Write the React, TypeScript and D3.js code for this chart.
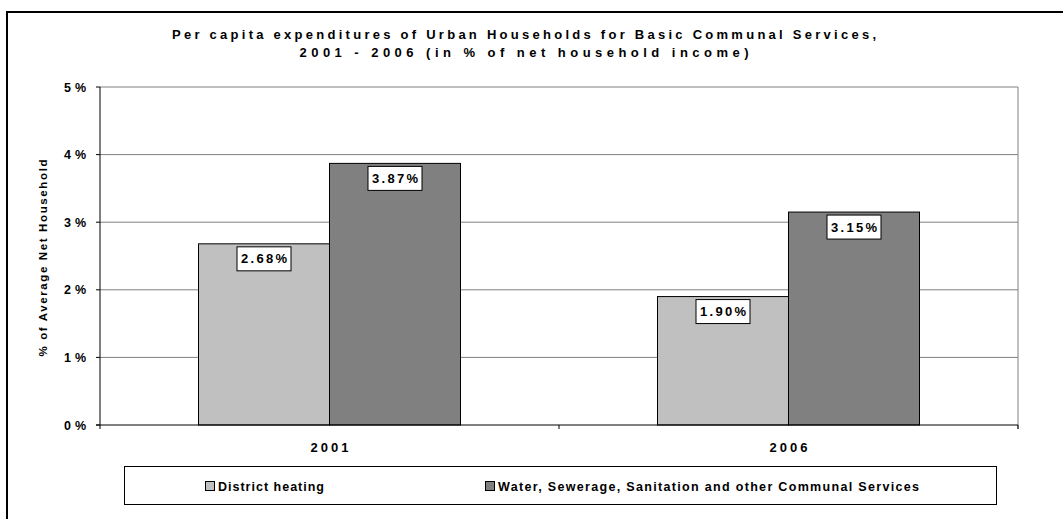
import React from "react";
import * as d3 from "d3";

const years = ["2001", "2006"];
const seriesNames = ["District heating", "Water, Sewerage, Sanitation and other Communal Services"];
const districtHeating = [2.68, 1.9];
const waterServices = [3.87, 3.15];
const yTicks = [0, 1, 2, 3, 4, 5];
const titleLines = [
  "Per capita expenditures of Urban Households for Basic Communal Services,",
  "2001 - 2006 (in % of net household income)",
];
const yAxisTitle = "% of Average Net Household";

const W = 1063;
const H = 519;
const plot = { left: 100, right: 1018, top: 87, bottom: 425 };
const colors = ["#C0C0C0", "#808080"];
const FONT = "'Liberation Sans', Arial, Helvetica, sans-serif";

export default function App() {
  const x = d3.scaleBand<string>().domain(years).range([plot.left, plot.right]).paddingInner(0).paddingOuter(0);
  const xs = d3.scaleBand<number>().domain([0, 1]).range([0, x.bandwidth()]).paddingInner(0).paddingOuter(0.752);
  const y = d3.scaleLinear().domain([0, 5]).range([plot.bottom, plot.top]);
  const series = [districtHeating, waterServices];

  const fmt = (v: number) => v.toFixed(2) + "%";

  return (
    <svg width={W} height={H} style={{ position: "absolute", left: 0, top: 0, background: "#fff" }} fontFamily={FONT}>
      <rect x={0} y={0} width={W} height={H} fill="#fff" />
      {/* outer frame */}
      <rect x={7} y={12} width={W + 20} height={H + 20} fill="none" stroke="#000" strokeWidth={2} />

      {/* title */}
      <text x={524} y={39} textAnchor="middle" fontSize={13} fontWeight="bold" textLength={704} lengthAdjust="spacing">
        {titleLines[0]}
      </text>
      <text x={524} y={57} textAnchor="middle" fontSize={13} fontWeight="bold" textLength={449} lengthAdjust="spacing">
        {titleLines[1]}
      </text>

      {/* gridlines */}
      {yTicks.filter((t) => t > 0).map((t) => (
        <line key={"g" + t} x1={plot.left} x2={plot.right} y1={y(t)} y2={y(t)} stroke="#808080" strokeWidth={1} />
      ))}
      {/* right border */}
      <line x1={plot.right} x2={plot.right} y1={plot.top} y2={plot.bottom + 4} stroke="#808080" strokeWidth={1} />

      {/* bars */}
      {years.map((yr, i) =>
        series.map((s, j) => (
          <rect
            key={yr + j}
            x={(x(yr) as number) + (xs(j) as number)}
            y={y(s[i])}
            width={xs.bandwidth()}
            height={y(0) - y(s[i])}
            fill={colors[j]}
            stroke="#000"
            strokeWidth={1}
          />
        ))
      )}

      {/* axes */}
      <line x1={plot.left} x2={plot.left} y1={plot.top} y2={plot.bottom} stroke="#000" strokeWidth={1} />
      <line x1={plot.left - 4} x2={plot.right} y1={plot.bottom} y2={plot.bottom} stroke="#000" strokeWidth={1} />
      {yTicks.map((t) => (
        <g key={"t" + t}>
          <line x1={plot.left - 4} x2={plot.left} y1={y(t)} y2={y(t)} stroke="#000" />
          <text x={86} y={y(t) + 4.5} textAnchor="end" fontSize={12.5} fontWeight="bold" textLength={22} lengthAdjust="spacing">
            {t + "%"}
          </text>
        </g>
      ))}
      {[plot.left, ...years.slice(1).map((yr) => x(yr) as number), plot.right].map((px, i) => (
        <line key={"xt" + i} x1={px} x2={px} y1={plot.bottom} y2={plot.bottom + 4} stroke="#000" />
      ))}
      {years.map((yr) => (
        <text key={"xl" + yr} x={(x(yr) as number) + x.bandwidth() / 2} y={452} textAnchor="middle" fontSize={13} fontWeight="bold" textLength={38} lengthAdjust="spacing">
          {yr}
        </text>
      ))}

      {/* y axis title */}
      <text
        transform={`translate(47, 258) rotate(-90)`}
        textAnchor="middle"
        fontSize={11.5}
        fontWeight="bold"
        textLength={197}
        lengthAdjust="spacing"
      >
        {yAxisTitle}
      </text>

      {/* data labels */}
      {years.map((yr, i) =>
        series.map((s, j) => {
          const cx = (x(yr) as number) + (xs(j) as number) + xs.bandwidth() / 2;
          const top = y(s[i]) + 3;
          return (
            <g key={"dl" + yr + j}>
              <rect x={cx - 27} y={top} width={54} height={24} fill="#fff" stroke="#000" strokeWidth={1} />
              <text x={cx} y={top + 16.5} textAnchor="middle" fontSize={13} fontWeight="bold" textLength={46} lengthAdjust="spacing">
                {fmt(s[i])}
              </text>
            </g>
          );
        })
      )}

      {/* legend */}
      <rect x={124.5} y={466.5} width={872} height={38} fill="#fff" stroke="#000" strokeWidth={1} />
      {seriesNames.map((name, j) => {
        const mx = j === 0 ? 205 : 485;
        const tl = j === 0 ? 106 : 421;
        return (
          <g key={"lg" + j}>
            <rect x={mx + 0.5} y={481.5} width={9} height={9} fill={colors[j]} stroke="#000" strokeWidth={1} />
            <text x={mx + 13} y={490.5} fontSize={12.5} fontWeight="bold" textLength={tl} lengthAdjust="spacing">
              {name}
            </text>
          </g>
        );
      })}
    </svg>
  );
}
